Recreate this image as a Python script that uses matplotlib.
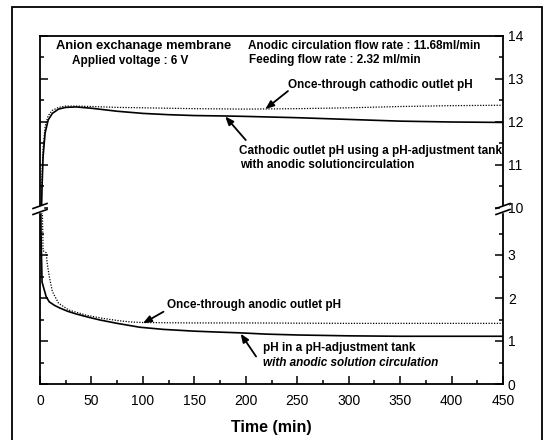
import matplotlib.pyplot as plt
from matplotlib.lines import Line2D
from matplotlib.patches import Rectangle

plt.rcParams['font.family'] = ['Liberation Sans', 'DejaVu Sans']

# Cathodic outlet pH (upper part of the broken axis)
t_cath_once = [0, 1, 2, 3, 5, 8, 12, 18, 25, 35, 50, 75, 100, 150, 200, 250, 300, 350, 400, 450]
ph_cath_once = [7.0, 9.8, 10.8, 11.4, 11.9, 12.15, 12.27, 12.34, 12.37, 12.37, 12.36, 12.34,
                12.33, 12.31, 12.30, 12.31, 12.33, 12.36, 12.38, 12.39]

t_cath_tank = [0, 1, 2, 3, 5, 8, 12, 18, 25, 35, 50, 75, 100, 125, 150, 180, 200, 250, 300, 350, 400, 450]
ph_cath_tank = [7.0, 9.5, 10.5, 11.2, 11.75, 12.05, 12.2, 12.3, 12.34, 12.35, 12.32, 12.25,
                12.2, 12.17, 12.15, 12.14, 12.13, 12.1, 12.06, 12.02, 12.0, 11.99]

# Anodic outlet pH (lower part)
t_an_once = [0, 3, 6, 7, 9, 12, 18, 28, 45, 60, 77, 90, 100, 120, 150, 200, 300, 400, 450]
ph_an_once = [7.0, 3.1, 3.05, 2.8, 2.5, 2.15, 1.88, 1.72, 1.6, 1.53, 1.47, 1.44, 1.43, 1.425,
              1.42, 1.42, 1.41, 1.41, 1.41]

t_an_tank = [0, 1, 2, 4, 6, 9, 14, 19, 27, 35, 46, 58, 75, 97, 120, 149, 170, 194, 220, 250,
             275, 300, 350, 400, 450]
ph_an_tank = [7.0, 3.5, 2.37, 2.2, 2.03, 1.91, 1.83, 1.77, 1.69, 1.63, 1.56, 1.49, 1.41, 1.32,
              1.27, 1.23, 1.21, 1.19, 1.16, 1.14, 1.13, 1.12, 1.11, 1.11, 1.11]

xticks = [0, 50, 100, 150, 200, 250, 300, 350, 400, 450]
upper_ticks = [10, 11, 12, 13, 14]
lower_ticks = [0, 1, 2, 3]

fig = plt.figure(figsize=(5.44, 4.40), dpi=100)

# outer frame of the scanned figure
fig.patches.append(Rectangle((12 / 544, -0.05), (542 - 12) / 544, 1.05 - 7.5 / 440,
                             transform=fig.transFigure, fill=False, lw=1.3, color='black'))

x0, x1 = 40 / 544, 503 / 544
ax_top = fig.add_axes([x0, 1 - 209 / 440, x1 - x0, (209 - 36) / 440])
ax_bot = fig.add_axes([x0, 1 - 384 / 440, x1 - x0, (384 - 209) / 440])

for ax in (ax_top, ax_bot):
    ax.plot(t_cath_once, ph_cath_once, color='black', ls=(0, (1, 1.2)), lw=0.9)
    ax.plot(t_cath_tank, ph_cath_tank, color='black', ls='-', lw=1.2)
    ax.plot(t_an_once, ph_an_once, color='black', ls=(0, (1, 1.2)), lw=0.9)
    ax.plot(t_an_tank, ph_an_tank, color='black', ls='-', lw=1.2)
    ax.set_xlim(0, 450)
    for s in ax.spines.values():
        s.set_linewidth(1.3)
    ax.tick_params(which='both', direction='in', left=True, right=True, top=False,
                   labelleft=False, labelright=True, width=1.1, labelsize=10)
    ax.tick_params(which='major', length=6)
    ax.tick_params(which='minor', length=3)

ax_top.set_ylim(14 - 173 / 43, 14)
ax_top.set_yticks(upper_ticks)
ax_top.set_yticks([10.5, 11.5, 12.5, 13.5], minor=True)
ax_top.tick_params(which='both', bottom=False, labelbottom=False)
ax_top.spines['bottom'].set_visible(False)

ax_bot.set_ylim(0, 175 / 43)
ax_bot.set_yticks(lower_ticks)
ax_bot.set_yticks([0.5, 1.5, 2.5, 3.5], minor=True)
ax_bot.set_xticks(xticks)
ax_bot.set_xticks([25, 75, 125, 175, 225, 275, 325, 375, 425], minor=True)
ax_bot.spines['top'].set_visible(False)
ax_bot.tick_params(axis='x', pad=7)
ax_bot.set_xlabel('Time (min)', fontsize=11.5, fontweight='bold', labelpad=9)

# axis break marks
for xb in (x0, x1):
    fig.patches.append(Rectangle((xb - 3 / 544, 1 - 212 / 440), 6 / 544, 6 / 440,
                                 transform=fig.transFigure, color='white', zorder=5))
    for yb in (206, 212):
        fig.lines.append(Line2D([xb - 7 / 544, xb + 7 / 544],
                                [1 - (yb + 2.5) / 440, 1 - (yb - 2.5) / 440],
                                transform=fig.transFigure, color='black', lw=1.2, zorder=6))

kw = dict(fontsize=8.5, fontweight='bold', va='center', ha='left')
ax_top.text(16, 13.77, 'Anion exchanage membrane', fontsize=9.3, fontweight='bold',
            va='center', ha='left')
ax_top.text(31, 13.41, 'Applied voltage : 6 V', **kw)
ax_top.text(202, 13.77, 'Anodic circulation flow rate : 11.68ml/min', **kw)
ax_top.text(203, 13.45, 'Feeding flow rate : 2.32 ml/min', **kw)

arrow = dict(arrowstyle='-|>,head_length=0.5,head_width=0.2', color='black', lw=1.3,
             shrinkA=0, shrinkB=0)
ax_top.text(241, 12.86, 'Once-through cathodic outlet pH', **kw)
ax_top.annotate('', xy=(219, 12.30), xytext=(241, 12.72), arrowprops=arrow)

ax_top.text(193, 11.32, 'Cathodic outlet pH using a pH-adjustment tank', clip_on=False, **kw)
ax_top.text(194, 10.99, 'with anodic solutioncirculation', **kw)
ax_top.annotate('', xy=(180, 12.13), xytext=(200, 11.58), arrowprops=arrow)

ax_bot.text(123, 1.84, 'Once-through anodic outlet pH', **kw)
ax_bot.annotate('', xy=(100, 1.41), xytext=(120, 1.68), arrowprops=arrow)

ax_bot.text(217, 0.84, 'pH in a pH-adjustment tank', **kw)
ax_bot.text(217, 0.5, 'with anodic solution circulation', fontsize=8.5, fontweight='bold',
            style='italic', va='center', ha='left')
ax_bot.annotate('', xy=(195, 1.17), xytext=(210, 0.64), arrowprops=arrow)

fig.savefig('out.png', dpi=100)
